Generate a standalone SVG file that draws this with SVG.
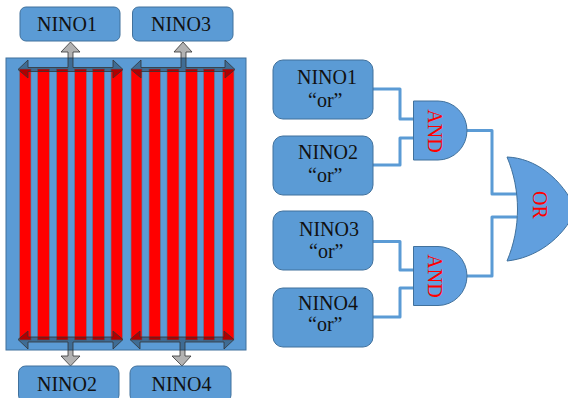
<svg xmlns="http://www.w3.org/2000/svg" width="568" height="398" viewBox="0 0 568 398">
<style>
.b{fill:#5B9BD5;stroke:#41719C;stroke-width:1}
.g{fill:#619FDE;stroke:#41719C;stroke-width:1}
.r{fill:#FF0000;stroke:#5F7F9A;stroke-width:.7}
.a{fill:#000;fill-opacity:.3;stroke:#333;stroke-width:.8;stroke-linejoin:miter}
.w{fill:none;stroke:#5B9BD5;stroke-width:3;stroke-linejoin:round}
text{font-family:"Liberation Serif","Times New Roman",serif;font-size:20px;fill:#111}
.t{fill:#FF0000}
</style>
<g id="array">
<rect class="b" x="6" y="58" width="240" height="292"/>
<g>
<rect class="r" x="19.500" y="69" width="11.500" height="271"/>
<rect class="r" x="37.500" y="69" width="12" height="271"/>
<rect class="r" x="56.500" y="69" width="11.500" height="271"/>
<rect class="r" x="74.500" y="69" width="12" height="271"/>
<rect class="r" x="92.500" y="69" width="12" height="271"/>
<rect class="r" x="111" y="69" width="11.500" height="271"/>
<rect class="r" x="131" y="69" width="11" height="271"/>
<rect class="r" x="149" y="69" width="11.500" height="271"/>
<rect class="r" x="167" y="69" width="12" height="271"/>
<rect class="r" x="185.500" y="69" width="12" height="271"/>
<rect class="r" x="203.500" y="69" width="11" height="271"/>
<rect class="r" x="222.500" y="69" width="11.500" height="271"/>
</g>
</g>
<g id="array-arrows">
<path class="a" d="M18 69.500L28 60V67.500H68V52H61L70.500 42L80 52H73V67.500H113V60L123 69.500L113 78V71.500H28V78Z"/>
<path class="a" d="M131 69.500L141 60V67.500H181V52H174L183 42L192 52H186V67.500H225V60L235 69.500L225 78V71.500H141V78Z"/>
<path class="a" d="M18 339.500L28 331V337H113V331L123 339.500L113 349V342H73V356H80L70.500 366L61 356H68V342H28V349Z"/>
<path class="a" d="M130 339.500L140 331V337H224V331L234 339.500L224 349V342H185V356H191L182 366L172 356H180V342H140V349Z"/>
</g>
<g id="connectors">
<path class="w" d="M373 89H400V119H413"/>
<path class="w" d="M373 165H400V138H413"/>
<path class="w" d="M373 241.500H400V270H413"/>
<path class="w" d="M373 317H400V288H413"/>
<path class="w" d="M467 130.500H492V194H517"/>
<path class="w" d="M467 276H492V217H517"/>
</g>
<g id="nino1-top"><rect class="b" x="20" y="7" width="100" height="34" rx="6"/><text x="37" y="31">NINO1</text></g>
<g id="nino3-top"><rect class="b" x="132.500" y="7" width="100.500" height="34" rx="6"/><text x="151" y="31">NINO3</text></g>
<g id="nino2-bottom"><rect class="b" x="18.500" y="366" width="100.500" height="36" rx="7"/><text x="37" y="391">NINO2</text></g>
<g id="nino4-bottom"><rect class="b" x="130" y="366" width="101" height="36" rx="7"/><text x="151.500" y="391">NINO4</text></g>
<g id="nino1-or"><rect class="b" x="273" y="60" width="100" height="59" rx="10"/><text x="297" y="84">NINO1</text><text x="308" y="107">“or”</text></g>
<g id="nino2-or"><rect class="b" x="273" y="136" width="100" height="59" rx="10"/><text x="298" y="159">NINO2</text><text x="308" y="182">“or”</text></g>
<g id="nino3-or"><rect class="b" x="273" y="211" width="100" height="59" rx="10"/><text x="299" y="236">NINO3</text><text x="309" y="258">“or”</text></g>
<g id="nino4-or"><rect class="b" x="273" y="288" width="100" height="59" rx="10"/><text x="298" y="310">NINO4</text><text x="308" y="331">“or”</text></g>
<g id="and-top"><path class="g" d="M413.500 101H438A29 29.500 0 0 1 438 160H413.500Z"/><text class="t" transform="translate(428 131) rotate(90)" text-anchor="middle">AND</text></g>
<g id="and-bottom"><path class="g" d="M413.500 246.500H438A29 29.500 0 0 1 438 305.500H413.500Z"/><text class="t" transform="translate(428 276) rotate(90)" text-anchor="middle">AND</text></g>
<g id="or-gate"><path class="g" d="M507 157C535 158 562 178 576 210C562 240 535 258 507 261C521 228 521 190 507 157Z"/><text class="t" transform="translate(533 205) rotate(90)" text-anchor="middle">OR</text></g>
</svg>
